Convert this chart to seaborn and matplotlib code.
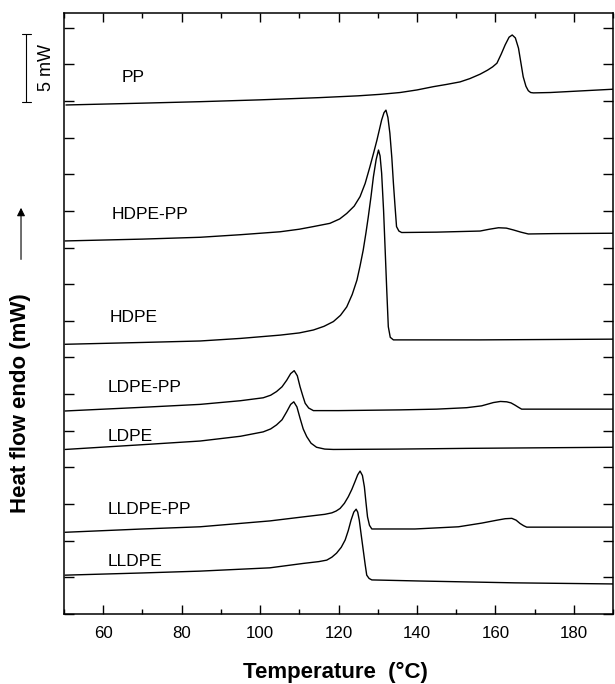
import numpy as np
import pandas as pd
import seaborn as sns
import matplotlib
matplotlib.use("Agg")
import matplotlib.pyplot as plt
import matplotlib.transforms as mtransforms
from matplotlib.ticker import MultipleLocator, NullFormatter

# ---------------- data (temperature in °C, heat flow in tick units) ----------------
pp_T = [50.5, 70, 84.7, 100, 115, 125, 130.6, 135.7, 140, 144.2, 147.5, 151.0, 153.5, 156.1, 158.0, 159.3,
        160.4, 161.5, 162.5, 163.5, 164.3, 165.1, 165.9, 166.5, 167.1, 167.8, 168.4, 169.0, 169.7, 174.0, 190]
pp_u = [13.89, 13.94, 13.98, 14.03, 14.09, 14.14, 14.18, 14.23, 14.30, 14.39, 14.45, 14.52, 14.61, 14.73, 14.84, 14.93,
        15.03, 15.28, 15.53, 15.74, 15.80, 15.72, 15.44, 15.05, 14.66, 14.40, 14.28, 14.23, 14.22, 14.23, 14.32]

hdpepp_T = [50.3, 70, 84.7, 95, 105.1, 110, 113.5, 117.8, 120.3, 122.1, 124.0, 125.5, 126.8, 128.0, 129.0,
            129.8, 130.5, 131.0, 131.6, 132.1, 132.6, 133.1, 133.6, 134.0, 134.4, 134.8, 135.4, 136.1,
            145, 156.1, 158.5, 160.8, 162.8, 164.6, 166.5, 168.4, 175, 190]
hdpepp_u = [10.18, 10.23, 10.28, 10.35, 10.43, 10.50, 10.57, 10.66, 10.78, 10.93, 11.13, 11.39, 11.75, 12.20, 12.60,
            12.93, 13.25, 13.48, 13.68, 13.75, 13.55, 13.12, 12.45, 11.76, 11.15, 10.57, 10.45, 10.41,
            10.42, 10.45, 10.50, 10.54, 10.53, 10.48, 10.42, 10.37, 10.38, 10.39]

hdpe_T = [50.3, 70, 84.7, 95, 105.1, 110, 113.6, 116.3, 118.7, 120.5, 122.1, 123.5, 124.7, 125.5, 126.3, 127.0,
          127.6, 128.3, 128.9, 129.6, 130.2, 130.6, 131.0, 131.5, 131.9, 132.3, 132.7, 133.2, 134.0, 140,
          156.1, 190]
hdpe_u = [7.36, 7.41, 7.45, 7.52, 7.61, 7.67, 7.75, 7.85, 7.98, 8.15, 8.38, 8.72, 9.11, 9.50, 9.93, 10.40,
          10.84, 11.40, 11.93, 12.40, 12.66, 12.50, 12.03, 11.00, 9.93, 8.85, 7.84, 7.55, 7.48, 7.48,
          7.48, 7.50]

ldpepp_T = [50.3, 70, 84.7, 95, 100.8, 102.7, 104.2, 105.6, 106.8, 107.8, 108.7, 109.5, 110.2, 110.9, 111.5,
            112.4, 113.6, 120, 135.7, 145, 152.7, 156.5, 159.5, 161.3, 162.9, 164.0, 165.0, 165.9, 166.7,
            170, 190]
ldpepp_u = [5.54, 5.64, 5.72, 5.82, 5.90, 5.97, 6.07, 6.20, 6.38, 6.56, 6.64, 6.50, 6.20, 5.95, 5.75,
            5.62, 5.55, 5.55, 5.57, 5.59, 5.63, 5.68, 5.77, 5.80, 5.79, 5.76, 5.70, 5.64, 5.59,
            5.59, 5.59]

ldpe_T = [50.3, 70, 84.7, 95, 100.8, 102.7, 104.2, 105.6, 106.8, 107.8, 108.6, 109.4, 110.2, 111.0, 111.9,
          113.0, 114.4, 116.5, 118.7, 135, 152.7, 190]
ldpe_u = [4.49, 4.62, 4.72, 4.85, 4.97, 5.05, 5.16, 5.30, 5.52, 5.72, 5.79, 5.65, 5.34, 5.05, 4.84,
          4.66, 4.55, 4.50, 4.49, 4.50, 4.52, 4.55]

lldpepp_T = [50.3, 70, 84.7, 102.5, 111.0, 116.5, 118.3, 119.4, 120.4, 121.5, 122.5, 123.4, 124.2, 124.9,
             125.5, 126.1, 126.6, 127.0, 127.4, 127.9, 128.5, 139.5, 150.6, 156.5, 160.4, 162.5, 164.2,
             165.3, 166.3, 167.2, 168.0, 175, 190]
lldpepp_u = [2.23, 2.32, 2.38, 2.54, 2.65, 2.72, 2.76, 2.81, 2.88, 3.02, 3.20, 3.40, 3.61, 3.80,
             3.90, 3.78, 3.47, 3.05, 2.65, 2.42, 2.32, 2.32, 2.38, 2.48, 2.56, 2.60, 2.61,
             2.56, 2.47, 2.41, 2.37, 2.37, 2.37]

lldpe_T = [50.3, 70, 84.7, 102.5, 111.0, 115.0, 117.0, 118.3, 119.5, 120.7, 121.7, 122.5, 123.2, 123.9,
           124.5, 124.9, 125.3, 125.8, 126.3, 126.8, 127.2, 127.8, 128.5, 140.8, 165.0, 190]
lldpe_u = [1.06, 1.12, 1.17, 1.26, 1.38, 1.43, 1.47, 1.55, 1.66, 1.82, 2.02, 2.28, 2.56, 2.78,
           2.86, 2.78, 2.56, 2.15, 1.75, 1.35, 1.06, 0.97, 0.93, 0.90, 0.85, 0.82]

sample_names = ["PP", "HDPE-PP", "HDPE", "LDPE-PP", "LDPE", "LLDPE-PP", "LLDPE"]
label_T = [64.8, 62.2, 61.7, 61.0, 61.0, 61.2, 61.2]
label_u = [14.65, 10.89, 8.10, 6.17, 4.83, 2.86, 1.42]

x_ticks = [60, 80, 100, 120, 140, 160, 180]
scale_bar_mW = 5
scale_bar_units = 1.86

# ---------------- build long-form table ----------------
curves = [(pp_T, pp_u), (hdpepp_T, hdpepp_u), (hdpe_T, hdpe_u), (ldpepp_T, ldpepp_u),
          (ldpe_T, ldpe_u), (lldpepp_T, lldpepp_u), (lldpe_T, lldpe_u)]
frames = []
for name, (t, u) in zip(sample_names, curves):
    frames.append(pd.DataFrame({"T": t, "u": u, "sample": name}))
df = pd.concat(frames, ignore_index=True)

# ---------------- style ----------------
sns.set_theme(style="ticks")
plt.rcParams["font.family"] = ["Liberation Sans", "DejaVu Sans"]
plt.rcParams.update({
    "axes.linewidth": 1.1,
    "text.color": "black",
    "axes.labelcolor": "black",
    "xtick.color": "black",
    "ytick.color": "black",
    "axes.edgecolor": "black",
})

fig = plt.figure(figsize=(6.15, 6.84), dpi=100)
ax = fig.add_axes([64 / 615, 70 / 684, 549 / 615, 601 / 684])

sns.lineplot(data=df, x="T", y="u", units="sample", estimator=None, sort=False,
             color="black", linewidth=1.0, ax=ax, legend=False)

for name, tx, uy in zip(sample_names, label_T, label_u):
    ax.text(tx, uy, name, fontsize=12.5, ha="left", va="center", color="black")

ax.set_xlim(50, 190)
ax.set_ylim(0, 16.4)
ax.set_xticks(x_ticks)
ax.set_xticklabels([str(v) for v in x_ticks])
ax.xaxis.set_minor_locator(MultipleLocator(10))
ax.yaxis.set_major_locator(MultipleLocator(1))
ax.yaxis.set_major_formatter(NullFormatter())

ax.tick_params(axis="x", which="major", direction="in", length=6.8, width=1.0,
               top=True, bottom=True, labelsize=12.2, pad=8.5, colors="black")
ax.tick_params(axis="x", which="minor", direction="in", length=3.6, width=1.0,
               top=True, bottom=True, colors="black")
ax.tick_params(axis="y", which="major", direction="in", length=7.2, width=1.0,
               left=True, right=True, colors="black")
for s in ax.spines.values():
    s.set_color("black")

ax.set_xlabel("Temperature  (°C)", fontsize=16, fontweight="bold", va="center", color="black")
ax.xaxis.set_label_coords(0.495, -0.0965)
ax.set_ylabel("Heat flow endo (mW)", fontsize=16, fontweight="bold", va="center", color="black")
ax.yaxis.set_label_coords(-0.080, 0.351)

# scale bar and arrow outside the axes
blend = mtransforms.blended_transform_factory(ax.transAxes, ax.transData)
top_u = 15.83
ax.plot([-0.0692, -0.0692], [top_u, top_u - scale_bar_units], transform=blend,
        color="black", lw=0.8, clip_on=False)
for yy in (top_u, top_u - scale_bar_units):
    ax.plot([-0.0765, -0.060], [yy, yy], transform=blend, color="black", lw=0.8, clip_on=False)
ax.text(-0.031, top_u - scale_bar_units / 2, f"{scale_bar_mW} mW", transform=blend, rotation=90,
        fontsize=13, ha="center", va="center", color="black")

ax.annotate("", xy=(-0.0783, 11.16), xytext=(-0.0783, 9.60), xycoords=blend, textcoords=blend,
            arrowprops=dict(arrowstyle="-|>", lw=0.8, color="black", mutation_scale=12),
            annotation_clip=False)

fig.savefig("out.png", dpi=100)
